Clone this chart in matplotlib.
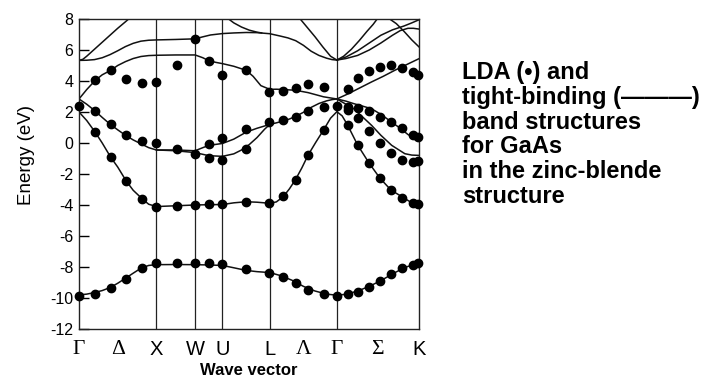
import numpy as np
import matplotlib
matplotlib.use("Agg")
import matplotlib.pyplot as plt

plt.rcParams['font.family'] = ['Liberation Sans', 'DejaVu Sans']
plt.rcParams['axes.unicode_minus'] = False

nan = np.nan

# posições dos pontos de alta simetria (unidades de 2pi/a)
sym_pos = [0.0, 1.0, 1.5, 1.854, 2.466, 3.332, 4.393]
tick_pos = [0.0, 0.5, 1.0, 1.5, 1.854, 2.466, 2.90, 3.332, 3.86, 4.393]
tick_lab = ["Γ", "Δ", "X", "W", "U", "L", "Λ", "Γ", "Σ", "K"]
greek = ["Γ", "Δ", "Λ", "Σ"]

# pontos LDA (•)
lda_k = [0, 0.21, 0.41, 0.61, 0.81, 1.0, 1.26, 1.5, 1.68, 1.85, 2.16, 2.46, 2.64,
         2.80, 2.96, 3.16, 3.33, 3.47, 3.60, 3.75, 3.89, 4.03, 4.17, 4.31, 4.38]
lda_b1 = [-9.87, -9.74, -9.33, -8.75, -8.09, -7.76, -7.72, -7.72, -7.76, -7.79, -8.15, -8.36, -8.62,
          -9.05, -9.48, -9.76, -9.87, -9.76, -9.59, -9.27, -8.88, -8.45, -8.04, -7.87, -7.76]
lda_b2 = [nan, 0.70, -0.93, -2.46, -3.59, -4.13, -4.06, -4.00, -3.96, -3.95, -3.79, -3.89, -3.44,
          -2.36, -0.80, 0.84, nan, 1.16, -0.13, -1.31, -2.28, -3.03, -3.52, -3.89, -3.94]
lda_b3 = [2.40, 2.05, 1.25, 0.53, 0.12, 0.00, -0.37, -0.72, -0.99, -1.12, -0.37, 1.35, 1.46,
          1.68, 2.05, 2.30, 2.41, 2.12, 1.59, 0.79, -0.02, -0.66, -1.10, -1.25, -1.14]
lda_b4 = [nan, nan, nan, nan, nan, nan, nan, nan, -0.09, 0.32, 0.92, nan, nan,
          nan, nan, nan, nan, 2.30, 2.24, 2.06, 1.70, 1.33, 0.95, 0.52, 0.41]
lda_b5 = [nan, 4.04, 4.69, 4.15, 3.87, 3.94, 5.01, nan, 5.27, 4.40, 4.70, 3.27, 3.33,
          3.54, 3.81, 3.59, nan, 3.46, 4.21, 4.65, 4.92, 5.03, 4.82, 4.56, 4.39]
lda_b6 = [nan, nan, nan, nan, nan, nan, nan, 6.73, nan, nan, nan, nan, nan,
          nan, nan, nan, nan, nan, nan, nan, nan, nan, nan, nan, nan]

# bandas tight-binding (———)
tb1_k = [0, 0.1, 0.2, 0.3, 0.4, 0.5, 0.6, 0.7, 0.8, 0.9, 1.0, 1.25, 1.5, 1.68, 1.854, 2.0, 2.16,
         2.3, 2.466, 2.6, 2.75, 2.9, 3.05, 3.2, 3.332, 3.45, 3.6, 3.75, 3.9, 4.05, 4.2, 4.3, 4.393]
tb1_e = [-9.8, -9.75, -9.65, -9.52, -9.33, -9.05, -8.73, -8.4, -8.08, -7.9, -7.85, -7.84, -7.85,
         -7.87, -7.9, -8.05, -8.22, -8.3, -8.36, -8.55, -8.85, -9.25, -9.55, -9.75, -9.82, -9.76,
         -9.55, -9.25, -8.88, -8.45, -8.05, -7.88, -7.8]

tb2_k = [0, 0.1, 0.21, 0.3, 0.41, 0.5, 0.61, 0.7, 0.81, 0.9, 1.0, 1.25, 1.5, 1.68, 1.854, 2.0,
         2.16, 2.3, 2.466, 2.55, 2.64, 2.72, 2.80, 2.88, 2.96, 3.06, 3.16, 3.25, 3.332, 3.40,
         3.47, 3.60, 3.75, 3.89, 4.03, 4.17, 4.31, 4.393]
tb2_e = [2.0, 1.45, 0.69, 0.0, -0.92, -1.55, -2.45, -3.05, -3.57, -3.95, -4.1, -4.05, -4.0,
         -3.98, -3.97, -3.86, -3.79, -3.82, -3.89, -3.8, -3.46, -2.95, -2.34, -1.6, -0.78,
         0.05, 0.84, 1.6, 2.02, 1.75, 1.16, -0.13, -1.31, -2.28, -3.03, -3.46, -3.89, -3.94]

# bandas 3 e 4 (degeneradas em Δ e Λ)
tb3_k = [0, 0.1, 0.2, 0.3, 0.4, 0.5, 0.6, 0.7, 0.8, 0.9, 1.0, 1.25, 1.5, 1.68, 1.854, 2.0,
         2.1, 2.2, 2.3, 2.4, 2.466, 2.55, 2.64, 2.72, 2.8, 2.9, 3.0, 3.1, 3.2, 3.27, 3.332,
         3.45, 3.55, 3.65, 3.78, 3.9, 4.04, 4.15, 4.21, 4.3, 4.393]
tb3_e = [2.84, 2.5, 2.1, 1.65, 1.22, 0.85, 0.5, 0.2, -0.05, -0.3, -0.45, -0.5, -0.62, -0.82,
         -0.86, -0.7, -0.45, -0.1, 0.35, 0.9, 1.2, 1.3, 1.42, 1.55, 1.72, 1.98, 2.3, 2.55,
         2.72, 2.8, 2.84, 2.5, 2.21, 1.75, 1.14, 0.5, -0.15, -0.5, -0.69, -0.78, -0.8]
tb4_k = [1.0, 1.25, 1.5, 1.6, 1.68, 1.854, 2.0, 2.16, 2.3, 2.466]
tb4_e = [-0.45, -0.45, -0.5, -0.3, -0.15, -0.03, 0.25, 0.7, 0.95, 1.2]
tb4s_k = [3.332, 3.45, 3.55, 3.65, 3.78, 3.9, 4.04, 4.15, 4.25, 4.34, 4.393]
tb4s_e = [2.84, 2.7, 2.54, 2.4, 2.21, 1.85, 1.35, 0.95, 0.55, 0.28, 0.15]

tb5_k = [0, 0.1, 0.21, 0.3, 0.41, 0.5, 0.6, 0.7, 0.8, 0.9, 1.0, 1.25, 1.5, 1.6, 1.68, 1.77,
         1.854, 2.0, 2.16, 2.25, 2.35, 2.466, 2.55, 2.64, 2.8, 2.96, 3.16, 3.332, 3.48, 3.63,
         3.78, 3.93, 4.08, 4.23, 4.393]
tb5_e = [2.84, 3.45, 4.04, 4.4, 4.69, 5.0, 5.25, 5.45, 5.58, 5.64, 5.66, 5.68, 5.68, 5.5, 5.3,
         5.2, 5.12, 4.95, 4.69, 4.3, 3.7, 3.46, 3.47, 3.45, 3.4, 3.25, 2.98, 2.84, 3.18, 3.56,
         3.94, 4.3, 4.69, 5.05, 5.44]

tb6_k = [0, 0.1, 0.2, 0.3, 0.4, 0.5, 0.6, 0.7, 0.8, 0.9, 1.0, 1.25, 1.5, 1.6, 1.7, 1.854,
         2.0, 2.16, 2.3, 2.466, 2.6, 2.7, 2.8, 2.9, 3.0, 3.1, 3.2, 3.27, 3.332, 3.45, 3.6,
         3.75, 3.9, 4.05, 4.15, 4.25, 4.32, 4.393]
tb6_e = [5.33, 5.34, 5.38, 5.5, 5.7, 5.95, 6.22, 6.43, 6.57, 6.63, 6.65, 6.68, 6.72, 6.85,
         6.97, 7.06, 7.1, 7.13, 7.12, 7.05, 6.9, 6.78, 6.6, 6.3, 5.92, 5.65, 5.47, 5.38, 5.35,
         5.45, 5.65, 6.0, 6.45, 6.95, 7.25, 7.4, 7.4, 7.35]

tb7_k = [0, 0.05, 0.1, 0.2, 0.3, 0.4, 0.5, 0.6, 0.66]
tb7_e = [5.33, 5.4, 5.6, 6.05, 6.5, 6.95, 7.4, 7.82, 8.08]
tb8_k = [1.92, 2.0, 2.1, 2.2, 2.3, 2.36]
tb8_e = [8.05, 7.75, 7.48, 7.28, 7.15, 7.1]
tb9_k = [2.85, 2.95, 3.05, 3.15, 3.25, 3.332]
tb9_e = [8.05, 7.45, 6.85, 6.2, 5.6, 5.35]
tb10_k = [3.332, 3.42, 3.52, 3.62, 3.72, 3.8, 3.86]
tb10_e = [5.35, 5.6, 6.05, 6.6, 7.2, 7.65, 8.05]
tb11_k = [3.332, 3.45, 3.6, 3.75, 3.9, 4.05, 4.2, 4.3, 4.393]
tb11_e = [5.35, 5.55, 5.95, 6.45, 6.95, 7.3, 7.55, 7.75, 7.95]
tb12_k = [4.0, 4.1, 4.2, 4.3, 4.393]
tb12_e = [8.05, 7.7, 7.2, 6.65, 6.2]

tb_bands = [(tb1_k, tb1_e), (tb2_k, tb2_e), (tb3_k, tb3_e), (tb4_k, tb4_e), (tb4s_k, tb4s_e),
            (tb5_k, tb5_e), (tb6_k, tb6_e), (tb7_k, tb7_e), (tb8_k, tb8_e), (tb9_k, tb9_e),
            (tb10_k, tb10_e), (tb11_k, tb11_e), (tb12_k, tb12_e)]
lda_bands = [lda_b1, lda_b2, lda_b3, lda_b4, lda_b5, lda_b6]

fig = plt.figure(figsize=(7.11, 3.89), dpi=100)
ax = fig.add_axes([79 / 711, 1 - 329 / 389, 340 / 711, 310 / 389])

for p in sym_pos[1:-1]:
    ax.axvline(p, color="#222222", lw=0.9, zorder=1)

for k, e in tb_bands:
    ax.plot(k, e, color="#111111", lw=1.1, zorder=2)

for b in lda_bands:
    ax.plot(lda_k, b, "o", color="black", ms=6, zorder=3, clip_on=False)

ax.set_xlim(0, 4.393)
ax.set_ylim(-12, 8)
ax.set_yticks(range(-12, 9, 2))
ax.tick_params(axis="y", direction="in", length=7, width=1, labelsize=11.5, pad=4)
ax.set_xticks(tick_pos)
ax.set_xticklabels(tick_lab)
ax.tick_params(axis="x", length=0, labelsize=14.5, pad=8)
for lab in ax.get_xticklabels():
    if lab.get_text() in greek:
        lab.set_fontfamily("Liberation Serif")
        lab.set_fontsize(15.5)
for s in ax.spines.values():
    s.set_linewidth(1.0)
    s.set_color("#222222")

ax.set_ylabel("Energy (eV)", fontsize=13.5)
ax.yaxis.set_label_coords(-0.13, 0.56)
ax.set_xlabel("Wave vector", fontsize=12, fontweight="bold", labelpad=3)

fig.text(462 / 711, 1 - 61 / 389,
         "LDA (•) and\ntight-binding (———)\nband structures\nfor GaAs\nin the zinc-blende\nstructure",
         fontsize=17, fontweight="bold", va="top", ha="left", linespacing=1.1)

fig.savefig("out.png", dpi=100)
